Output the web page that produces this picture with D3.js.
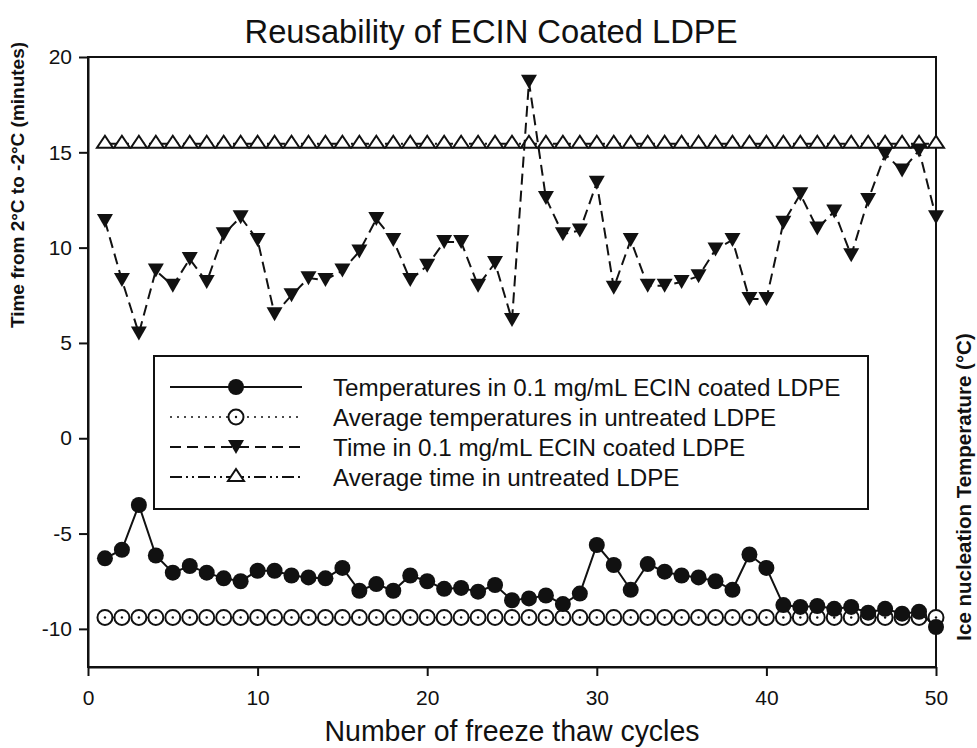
<!DOCTYPE html>
<html>
<head>
<meta charset="utf-8">
<script src="https://cdn.jsdelivr.net/npm/d3@7"></script>
<style>
  body { margin: 0; background: #fff; }
  svg text { font-family: "Liberation Sans", Arial, sans-serif; fill: #111; }
</style>
</head>
<body>
<svg id="chart" width="977" height="748"></svg>
<script>
// freeze-thaw cycle numbers
const cycles = [1,2,3,4,5,6,7,8,9,10,11,12,13,14,15,16,17,18,19,20,21,22,23,24,25,
                26,27,28,29,30,31,32,33,34,35,36,37,38,39,40,41,42,43,44,45,46,47,48,49,50];

// ice nucleation temperature, coated LDPE (degC)
const tempCoated = [-6.3,-5.85,-3.5,-6.15,-7.05,-6.7,-7.05,-7.35,-7.5,-6.95,
                    -6.95,-7.2,-7.3,-7.35,-6.8,-8.0,-7.65,-8.0,-7.2,-7.5,
                    -7.9,-7.85,-8.05,-7.7,-8.5,-8.4,-8.25,-8.7,-8.15,-5.6,
                    -6.65,-7.95,-6.6,-7.0,-7.2,-7.3,-7.5,-7.95,-6.1,-6.8,
                    -8.75,-8.85,-8.8,-8.95,-8.85,-9.15,-8.95,-9.2,-9.1,-9.9];

// time from 2 to -2 degC, coated LDPE (minutes)
const timeCoated = [11.4,8.3,5.5,8.8,8.0,9.4,8.2,10.7,11.6,10.4,
                    6.5,7.5,8.4,8.3,8.8,9.8,11.5,10.4,8.3,9.05,
                    10.3,10.3,8.0,9.2,6.2,18.7,12.6,10.7,10.9,13.4,
                    7.9,10.4,8.0,8.0,8.2,8.5,9.9,10.4,7.3,7.3,
                    11.3,12.8,11.0,11.9,9.6,12.5,14.9,14.05,15.1,11.6];

// untreated LDPE averages
const avgTempUntreated = -9.4;
const avgTimeUntreated = 15.45;

const xTicks = [0, 10, 20, 30, 40, 50];
const yTicks = [-10, -5, 0, 5, 10, 15, 20];

const seriesNames = [
  "Temperatures in 0.1 mg/mL ECIN coated LDPE",
  "Average temperatures in untreated LDPE",
  "Time in 0.1 mg/mL ECIN coated LDPE",
  "Average time in untreated LDPE"
];

const svg = d3.select("#chart");
const plotL = 88, plotR = 936, plotT = 57, plotB = 667;

const x = d3.scaleLinear().domain([0, 50]).range([plotL, plotR]);
const y = d3.scaleLinear().domain([-12, 20]).range([plotB, plotT]);

// frame
svg.append("rect")
  .attr("x", plotL).attr("y", plotT)
  .attr("width", plotR - plotL).attr("height", plotB - plotT)
  .attr("fill", "none").attr("stroke", "#111").attr("stroke-width", 2);

// axes (plain hyphen for negatives, like the original)
const xAxis = svg.append("g")
  .attr("transform", "translate(0," + plotB + ")")
  .call(d3.axisBottom(x).tickValues(xTicks).tickFormat(d => String(d))
    .tickSize(9).tickPadding(14).tickSizeOuter(0));
const yAxis = svg.append("g")
  .attr("transform", "translate(" + plotL + ",0)")
  .call(d3.axisLeft(y).tickValues(yTicks).tickFormat(d => String(d))
    .tickSize(9).tickPadding(7).tickSizeOuter(0));
[xAxis, yAxis].forEach(a => {
  a.select(".domain").attr("stroke", "#111").attr("stroke-width", 2);
  a.selectAll(".tick line").attr("stroke", "#111").attr("stroke-width", 2);
  a.selectAll(".tick text").style("font-size", "21px").attr("fill", "#111");
});

// markers
const triDown = "M-8,-7L8,-7L0,7Z";
const triUp = "M0,-8L8,4L-8,4Z";

function drawMarker(g, kind, px, py) {
  if (kind === "dot") {
    g.append("circle").attr("cx", px).attr("cy", py).attr("r", 8).attr("fill", "#111");
  } else if (kind === "ring") {
    g.append("circle").attr("cx", px).attr("cy", py).attr("r", 7.5)
      .attr("fill", "#fff").attr("stroke", "#111").attr("stroke-width", 2);
    g.append("circle").attr("cx", px).attr("cy", py).attr("r", 1.2).attr("fill", "#111");
  } else if (kind === "down") {
    g.append("path").attr("d", triDown).attr("transform", "translate(" + px + "," + py + ")")
      .attr("fill", "#111");
  } else {
    g.append("path").attr("d", triUp).attr("transform", "translate(" + px + "," + py + ")")
      .attr("fill", "#fff").attr("stroke", "#111").attr("stroke-width", 2);
  }
}

const series = [
  { values: tempCoated, marker: "dot", dash: null, width: 2 },
  { values: cycles.map(() => avgTempUntreated), marker: "ring", dash: "2,5", width: 1.5 },
  { values: timeCoated, marker: "down", dash: "11,6", width: 2 },
  { values: cycles.map(() => avgTimeUntreated), marker: "up", dash: "12,4,2,4,2,4", width: 2 }
];

const line = d3.line().x(d => x(d[0])).y(d => y(d[1]));
const plot = svg.append("g");

// avg lines first, then data series on top
[3, 1, 2, 0].forEach(i => {
  const s = series[i];
  const pts = cycles.map((c, k) => [c, s.values[k]]);
  const g = plot.append("g");
  g.append("path").datum(pts).attr("d", line)
    .attr("fill", "none").attr("stroke", "#111").attr("stroke-width", s.width)
    .attr("stroke-dasharray", s.dash);
  pts.forEach(p => drawMarker(g, s.marker, x(p[0]), y(p[1])));
});

// legend
const lg = svg.append("g");
lg.append("rect").attr("x", 154).attr("y", 356).attr("width", 714).attr("height", 153)
  .attr("fill", "#fff").attr("stroke", "#111").attr("stroke-width", 2);
const legendY = d3.scalePoint().domain(seriesNames).range([387, 477]);
seriesNames.forEach((name, i) => {
  const s = series[i];
  const ly = legendY(name);
  lg.append("line").attr("x1", 170).attr("x2", 302).attr("y1", ly).attr("y2", ly)
    .attr("stroke", "#111").attr("stroke-width", s.width).attr("stroke-dasharray", s.dash);
  drawMarker(lg, s.marker, 236, ly);
  lg.append("text").attr("x", 333).attr("y", ly).attr("dy", "0.36em")
    .style("font-size", "24.2px").text(name);
});

// titles
svg.append("text").attr("x", 491).attr("y", 43).attr("text-anchor", "middle")
  .attr("textLength", 493).attr("lengthAdjust", "spacingAndGlyphs")
  .style("font-size", "34px").text("Reusability of ECIN Coated LDPE");
svg.append("text").attr("x", 512).attr("y", 741).attr("text-anchor", "middle")
  .attr("textLength", 375).attr("lengthAdjust", "spacingAndGlyphs")
  .style("font-size", "29px").text("Number of freeze thaw cycles");
svg.append("text").attr("transform", "translate(24,185) rotate(-90)").attr("text-anchor", "middle")
  .style("font-size", "19px").style("font-weight", "bold")
  .text("Time from 2°C to -2°C (minutes)");
svg.append("text").attr("transform", "translate(971,487) rotate(-90)").attr("text-anchor", "middle")
  .style("font-size", "20.5px").style("font-weight", "bold")
  .text("Ice nucleation Temperature (°C)");
</script>
</body>
</html>
